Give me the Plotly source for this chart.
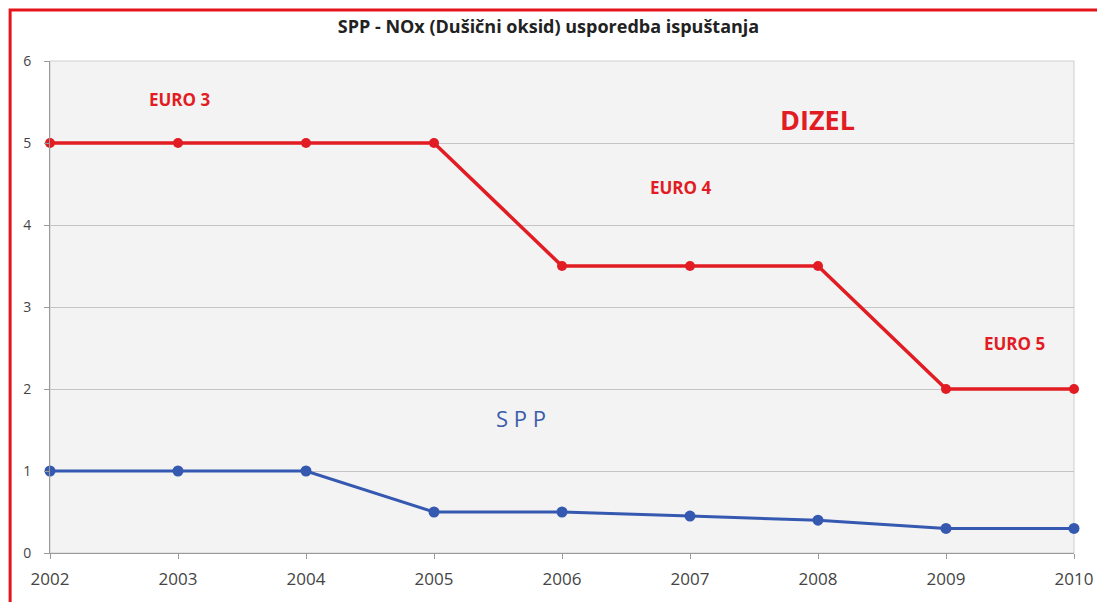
import plotly.graph_objects as go

years = [2002, 2003, 2004, 2005, 2006, 2007, 2008, 2009, 2010]
dizel = [5, 5, 5, 5, 3.5, 3.5, 3.5, 2, 2]
spp = [1, 1, 1, 0.5, 0.5, 0.45, 0.4, 0.3, 0.3]
y_ticks = [0, 1, 2, 3, 4, 5, 6]

OFF = 8  # default page body margin
W, H = 1105 - OFF, 602 - OFF
L, R, T, B = 50 - OFF, 28, 61 - OFF, 49
pw, ph = W - L - R, H - T - B

def px(x):
    return (x - OFF - L) / pw

def py(y):
    return (H - B - (y - OFF)) / ph

fig = go.Figure()
fig.add_trace(go.Scatter(x=years, y=dizel, mode="lines+markers",
                         line=dict(color="#e21c23", width=3.5),
                         marker=dict(color="#e21c23", size=10),
                         cliponaxis=False, name="DIZEL"))
fig.add_trace(go.Scatter(x=years, y=spp, mode="lines+markers",
                         line=dict(color="#3558b0", width=3),
                         marker=dict(color="#3558b0", size=11),
                         cliponaxis=False, name="SPP"))

red = "#e21c23"
ann = [
    dict(text="EURO 3", x=180, y=99, size=17, color=red, bold=True),
    dict(text="DIZEL", x=820, y=120, size=27, color=red, bold=True),
    dict(text="EURO 4", x=683, y=187, size=17, color=red, bold=True),
    dict(text="EURO 5", x=1017, y=343, size=17, color=red, bold=True),
    dict(text="S P P", x=522, y=418, size=22, color="#3a5cab", bold=False),
]
annotations = []
for a in ann:
    t = f"<b>{a['text']}</b>" if a["bold"] else a["text"]
    annotations.append(dict(text=t, xref="paper", yref="paper", x=px(a["x"]), y=py(a["y"]),
                            showarrow=False, xanchor="center", yanchor="middle",
                            font=dict(size=a["size"], color=a["color"], family="Open Sans")))

fig.update_layout(
    width=W, height=H,
    margin=dict(l=L, r=R, t=T, b=B),
    paper_bgcolor="white",
    plot_bgcolor="#f3f3f3",
    showlegend=False,
    title=dict(text="<b>SPP - NOx (Dušični oksid) usporedba ispuštanja</b>",
               x=px(556), xanchor="center", y=1 - (27 - OFF) / H, yanchor="middle",
               font=dict(size=18, color="#222222", family="Open Sans")),
    annotations=annotations,
    shapes=[
        dict(type="rect", xref="paper", yref="paper", x0=0, x1=1, y0=0, y1=1,
             line=dict(color="#cfcfcf", width=1), fillcolor="rgba(0,0,0,0)", layer="below"),
        dict(type="rect", xref="paper", yref="paper",
             x0=px(10), x1=px(1115), y0=py(615), y1=py(10),
             line=dict(color="#e5141b", width=3), fillcolor="rgba(0,0,0,0)", layer="above"),
    ],
)
fig.update_xaxes(range=[2002, 2010], tickvals=years, ticktext=[str(y) for y in years],
                 showgrid=False, showline=True, linecolor="#9a9a9a", linewidth=1,
                 ticks="outside", ticklen=5, tickcolor="#9a9a9a", ticklabelstandoff=6,
                 tickfont=dict(size=17, color="#444444", family="Open Sans"), zeroline=False)
fig.update_yaxes(range=[0, 6], tickvals=y_ticks, showgrid=True, gridcolor="#c4c4c4", gridwidth=1,
                 showline=True, linecolor="#9a9a9a", linewidth=1,
                 ticks="outside", ticklen=5, tickcolor="#9a9a9a", ticklabelstandoff=10,
                 tickfont=dict(size=14, color="#444444", family="Open Sans"), zeroline=False)

fig.write_html("out.html")
